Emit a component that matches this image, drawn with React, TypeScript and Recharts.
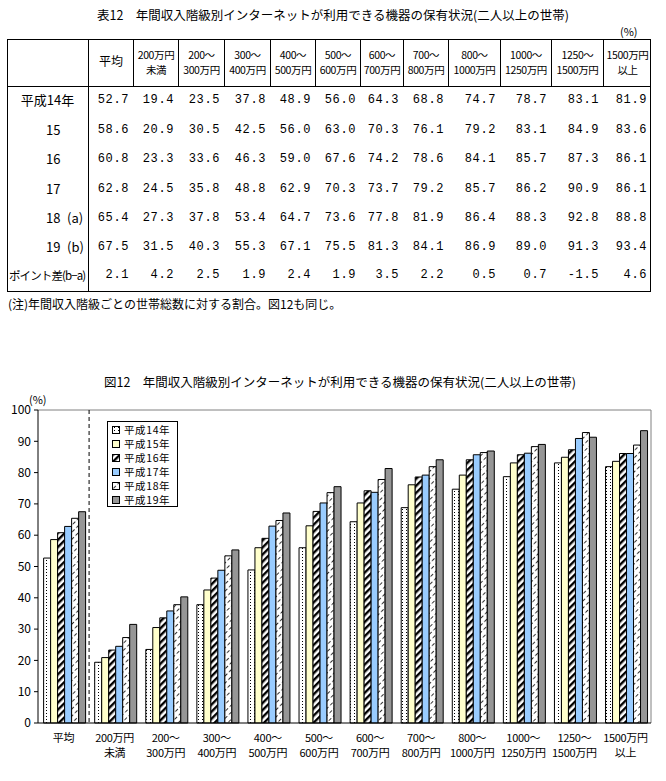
import React from "react";
import { Bar, BarChart, CartesianGrid, XAxis, YAxis } from "recharts";

// 年間収入階級（表・図共通）
const categories = [
  "平均",
  "200万円\n未満",
  "200～\n300万円",
  "300～\n400万円",
  "400～\n500万円",
  "500～\n600万円",
  "600～\n700万円",
  "700～\n800万円",
  "800～\n1000万円",
  "1000～\n1250万円",
  "1250～\n1500万円",
  "1500万円\n以上",
];

const seriesNames = ["平成14年", "平成15年", "平成16年", "平成17年", "平成18年", "平成19年"];
const rowLabels = ["平成14年", "15", "16", "17", "18", "19"];
const rowSuffix = ["", "", "", "", "(a)", "(b)"];

const h14 = [52.7, 19.4, 23.5, 37.8, 48.9, 56.0, 64.3, 68.8, 74.7, 78.7, 83.1, 81.9];
const h15 = [58.6, 20.9, 30.5, 42.5, 56.0, 63.0, 70.3, 76.1, 79.2, 83.1, 84.9, 83.6];
const h16 = [60.8, 23.3, 33.6, 46.3, 59.0, 67.6, 74.2, 78.6, 84.1, 85.7, 87.3, 86.1];
const h17 = [62.8, 24.5, 35.8, 48.8, 62.9, 70.3, 73.7, 79.2, 85.7, 86.2, 90.9, 86.1];
const h18 = [65.4, 27.3, 37.8, 53.4, 64.7, 73.6, 77.8, 81.9, 86.4, 88.3, 92.8, 88.8];
const h19 = [67.5, 31.5, 40.3, 55.3, 67.1, 75.5, 81.3, 84.1, 86.9, 89.0, 91.3, 93.4];
const pointDiff = [2.1, 4.2, 2.5, 1.9, 2.4, 1.9, 3.5, 2.2, 0.5, 0.7, -1.5, 4.6];

const yTicks = [0, 10, 20, 30, 40, 50, 60, 70, 80, 90, 100];

const allSeries = [h14, h15, h16, h17, h18, h19];
const fills = ["url(#p14)", "#FFFFCC", "url(#p16)", "#99CCFF", "url(#p18)", "#969696"];

const chartData = categories.map((name, i) => {
  const row: Record<string, string | number> = { name };
  seriesNames.forEach((s, k) => (row[s] = allSeries[k][i]));
  return row;
});

// table layout
const colEdges = [7, 88, 133, 178, 224, 270, 315, 360, 403, 448, 500, 551, 603, 651];
const rowY = [100, 130, 159, 189, 218, 247, 275];
const FONT = '"Noto Sans CJK JP", "Noto Sans", sans-serif';
const MONO = '"Liberation Mono", "DejaVu Sans Mono", monospace';

function Patterns() {
  return (
    <svg width={0} height={0} style={{ position: "absolute" }}>
      <defs>
        <pattern id="p14" patternUnits="userSpaceOnUse" width={4} height={3}>
          <rect width={4} height={3} fill="#fff" />
          <rect x={2} y={1} width={1} height={1} fill="#000" />
        </pattern>
        <pattern id="p16" patternUnits="userSpaceOnUse" width={5} height={5} patternTransform="rotate(45)">
          <rect width={5} height={5} fill="#fff" />
          <rect width={2.4} height={5} fill="#000" />
        </pattern>
        <pattern id="p18" patternUnits="userSpaceOnUse" width={5} height={6} patternTransform="rotate(45)">
          <rect width={5} height={6} fill="#fff" />
          <rect width={0.8} height={3.5} fill="#000" />
        </pattern>
      </defs>
    </svg>
  );
}

function DataTable() {
  const lines: React.ReactNode[] = [];
  const texts: React.ReactNode[] = [];
  const top = 39, headBottom = 86, bottom = 292;
  lines.push(
    <div key="box" style={{ position: "absolute", left: colEdges[0], top, width: colEdges[13] - colEdges[0], height: bottom - top, border: "1px solid #000", boxSizing: "border-box" }} />
  );
  lines.push(<div key="hl" style={{ position: "absolute", left: colEdges[0], top: headBottom, width: colEdges[13] - colEdges[0], height: 1, background: "#000" }} />);
  lines.push(<div key="v1" style={{ position: "absolute", left: colEdges[1], top, width: 1, height: bottom - top, background: "#000" }} />);
  for (let c = 2; c < 13; c++) {
    lines.push(<div key={"v" + c} style={{ position: "absolute", left: colEdges[c], top, width: 1, height: headBottom - top, background: "#000" }} />);
  }
  categories.forEach((cat, i) => {
    const parts = cat.split("\n");
    const l = colEdges[i + 1], r = colEdges[i + 2];
    const single = parts.length === 1;
    texts.push(
      <div key={"h" + i} style={{ position: "absolute", left: l + 1, width: r - l - 1, top: single ? 53 : 47, textAlign: "center", fontSize: single ? 12 : 10.5, lineHeight: "15px", letterSpacing: single ? 0 : -0.4, whiteSpace: "nowrap" }}>
        {parts.map((p, k) => <div key={k}>{p}</div>)}
      </div>
    );
  });
  const rows = [...allSeries, pointDiff];
  rows.forEach((vals, ri) => {
    const y = rowY[ri];
    if (ri === 0) {
      texts.push(<div key={"rl" + ri} style={{ position: "absolute", left: 7, width: 81, top: y - 9, textAlign: "center", fontSize: 13, lineHeight: "18px" }}>{rowLabels[ri]}</div>);
    } else if (ri < 6) {
      texts.push(<div key={"rl" + ri} style={{ position: "absolute", left: 46, top: y - 9, fontSize: 13, lineHeight: "18px" }}>{rowLabels[ri]}</div>);
      if (rowSuffix[ri]) texts.push(<div key={"rs" + ri} style={{ position: "absolute", left: 67, top: y - 9, fontSize: 13, lineHeight: "18px" }}>{rowSuffix[ri]}</div>);
    } else {
      texts.push(<div key={"rl" + ri} style={{ position: "absolute", left: 9, top: y - 9, fontSize: 11.5, lineHeight: "18px", letterSpacing: -0.9, whiteSpace: "nowrap" }}>ポイント差(b−a)</div>);
    }
    vals.forEach((v, ci) => {
      const r = colEdges[ci + 2];
      texts.push(
        <div key={"d" + ri + "-" + ci} style={{ position: "absolute", right: 666 - r + 4, top: y - 9, fontFamily: MONO, fontSize: 12, lineHeight: "18px", letterSpacing: 0.6, whiteSpace: "nowrap" }}>
          {v.toFixed(1)}
        </div>
      );
    });
  });
  return (
    <>
      <div style={{ position: "absolute", left: 0, width: 666, top: 5, textAlign: "center", fontSize: 12.5, whiteSpace: "nowrap" }}>
        表12　年間収入階級別インターネットが利用できる機器の保有状況(二人以上の世帯)
      </div>
      <div style={{ position: "absolute", left: 620, top: 23, fontSize: 11 }}>(%)</div>
      {lines}
      {texts}
      <div style={{ position: "absolute", left: 8, top: 295, fontSize: 12, whiteSpace: "nowrap" }}>
        (注)年間収入階級ごとの世帯総数に対する割合。図12も同じ。
      </div>
    </>
  );
}

function CategoryTick(props: any) {
  const { x, y, payload } = props;
  const parts = String(payload.value).split("\n");
  return (
    <text x={x} y={y} textAnchor="middle" fontSize={11} letterSpacing={-0.3} fill="#000" fontFamily={FONT}>
      {parts.map((p, k) => (
        <tspan key={k} x={x} dy={k === 0 ? 19 : 15}>{p}</tspan>
      ))}
    </text>
  );
}

function LegendBox() {
  return (
    <div style={{ position: "absolute", left: 107, top: 421, width: 71, height: 86, border: "1px solid #000", boxSizing: "border-box", background: "#fff", paddingTop: 1 }}>
      {seriesNames.map((s, k) => (
        <div key={s} style={{ display: "flex", alignItems: "center", height: 14, paddingLeft: 4 }}>
          <svg width={9} height={9} style={{ marginRight: 3 }}>
            <rect x={0.5} y={0.5} width={7} height={7} fill={fills[k]} stroke="#000" />
          </svg>
          <span style={{ fontSize: 10.5, lineHeight: "12px", letterSpacing: 0.6 }}>{s}</span>
        </div>
      ))}
    </div>
  );
}

export default function App() {
  return (
    <div style={{ position: "absolute", left: 0, top: 0, width: 666, height: 781, background: "#fff", fontFamily: FONT, color: "#000" }}>
      <Patterns />
      <DataTable />
      <div style={{ position: "absolute", left: 0, width: 680, top: 372, textAlign: "center", fontSize: 12.5, whiteSpace: "nowrap" }}>
        図12　年間収入階級別インターネットが利用できる機器の保有状況(二人以上の世帯)
      </div>
      <div style={{ position: "absolute", left: 29, top: 391, fontSize: 11 }}>(%)</div>
      <div style={{ position: "absolute", left: 0, top: 370 }}>
        <BarChart width={666} height={411} data={chartData} margin={{ top: 40, right: 15, bottom: 8, left: 8 }} barCategoryGap="11%" barGap={0}>
          <CartesianGrid
            stroke="#808080"
            horizontalCoordinatesGenerator={({ offset }: any) => [offset.top]}
            verticalCoordinatesGenerator={({ offset }: any) => [offset.left + offset.width]}
          />
          <CartesianGrid
            stroke="#000"
            strokeDasharray="4 3"
            horizontal={false}
            verticalCoordinatesGenerator={({ offset }: any) => [offset.left + offset.width / categories.length]}
          />
          <XAxis dataKey="name" interval={0} height={50} tickLine={false} tickSize={0} tickMargin={0} axisLine={{ stroke: "#000" }} tick={<CategoryTick />} />
          <YAxis
            width={30}
            domain={[0, 100]}
            ticks={yTicks}
            interval={0}
            tickSize={4}
            tickMargin={3}
            axisLine={{ stroke: "#000" }}
            tickLine={{ stroke: "#000" }}
            tick={{ fill: "#000", fontSize: 12, fontFamily: FONT }}
          />
          {seriesNames.map((s, k) => (
            <Bar key={s} dataKey={s} fill={fills[k]} stroke="#000" strokeWidth={1} isAnimationActive={false} />
          ))}
        </BarChart>
      </div>
      <LegendBox />
    </div>
  );
}
